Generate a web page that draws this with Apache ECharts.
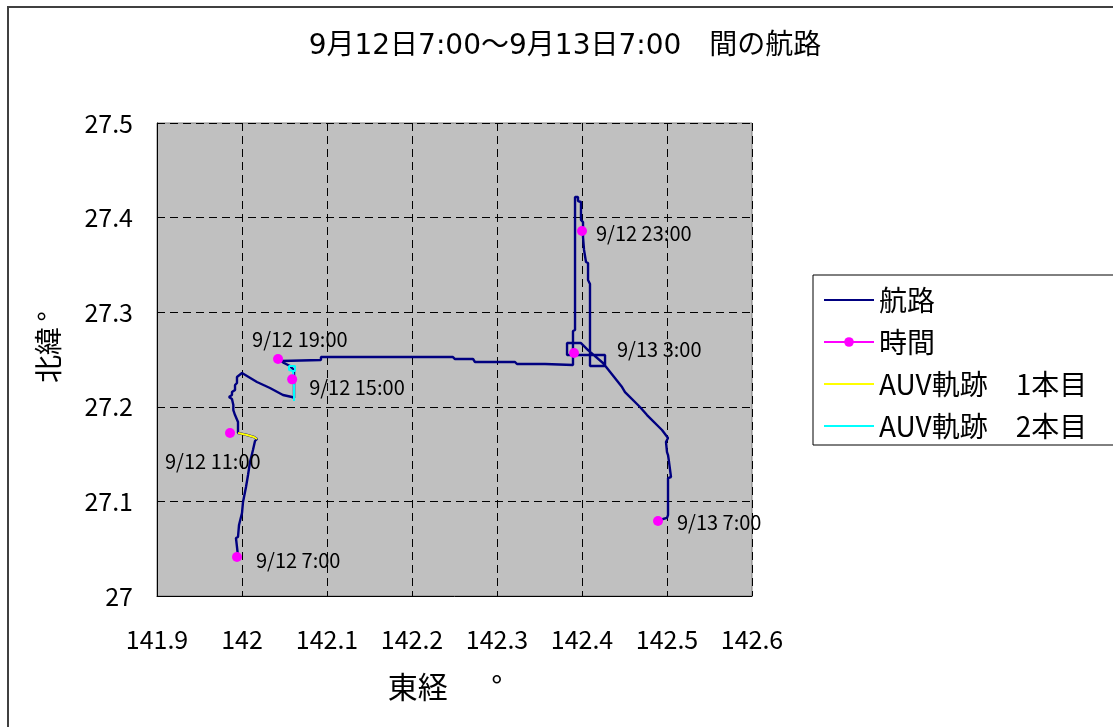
<!DOCTYPE html>
<html>
<head>
<meta charset="utf-8">
<script src="https://cdn.jsdelivr.net/npm/echarts@6/dist/echarts.min.js"></script>
<style>
  html, body { margin: 0; padding: 0; background: #fff; }
  #chart { width: 1113px; height: 727px; }
</style>
</head>
<body>
<div id="chart"></div>
<script>
// Ship track (longitude / latitude, degrees)
const routeLon = [
  141.9953, 141.9929, 141.9953, 141.9965, 141.9988, 142.0000, 142.0012, 142.0012, 142.0035, 142.0047,
  142.0059, 142.0071, 142.0082, 142.0094, 142.0106, 142.0129, 142.0141, 142.0153, 142.0176, 142.0141,
  142.0129, 142.0059, 142.0047, 141.9953, 141.9953, 141.9918, 141.9898, 141.9898, 141.9882, 141.9847,
  141.9882, 141.9882, 141.9918, 141.9918, 141.9941, 141.9941, 142.0000, 142.0012, 142.0176, 142.0329,
  142.0482, 142.0588, 142.0612, 142.0612, 142.0565, 142.0494, 142.0459, 142.0482, 142.0929, 142.0929,
  142.2482, 142.2506, 142.2718, 142.2741, 142.3212, 142.3235, 142.3565, 142.3588, 142.3894, 142.3894,
  142.3918, 142.3918, 142.3953, 142.3953, 142.3988, 142.3988, 142.4012, 142.4012, 142.4024, 142.4024,
  142.4047, 142.4047, 142.4071, 142.4071, 142.4094, 142.4094, 142.4271, 142.4271, 142.4094, 142.4094,
  142.3824, 142.3824, 142.3988, 142.4071, 142.4247, 142.4471, 142.4506, 142.4682, 142.4765, 142.4941,
  142.5012, 142.4988, 142.5000, 142.4988, 142.5012, 142.5024, 142.5047, 142.5047, 142.5012, 142.5012,
  142.5000, 142.4953, 142.4894
];
const routeLat = [
  27.0423, 27.0613, 27.0624, 27.0751, 27.0761, 27.0877, 27.0888, 27.0994, 27.1015, 27.1152,
  27.1163, 27.1279, 27.1290, 27.1416, 27.1459, 27.1543, 27.1554, 27.1638, 27.1660, 27.1681,
  27.1691, 27.1702, 27.1723, 27.1723, 27.1839, 27.1913, 27.1966, 27.2019, 27.2082, 27.2104,
  27.2125, 27.2156, 27.2178, 27.2230, 27.2252, 27.2315, 27.2357, 27.2336, 27.2262, 27.2199,
  27.2125, 27.2104, 27.2093, 27.2389, 27.2431, 27.2463, 27.2484, 27.2495, 27.2495, 27.2526,
  27.2526, 27.2505, 27.2505, 27.2474, 27.2474, 27.2452, 27.2452, 27.2442, 27.2442, 27.2801,
  27.2812, 27.4218, 27.4218, 27.4175, 27.4165, 27.3975, 27.3953, 27.3795, 27.3784, 27.3658,
  27.3647, 27.3531, 27.3520, 27.3340, 27.3298, 27.2548, 27.2548, 27.2431, 27.2431, 27.2548,
  27.2548, 27.2674, 27.2674, 27.2600, 27.2463, 27.2209, 27.2156, 27.1998, 27.1913, 27.1755,
  27.1670, 27.1628, 27.1522, 27.1512, 27.1490, 27.1416, 27.1406, 27.1258, 27.1247, 27.0856,
  27.0825, 27.0814, 27.0793
];

// AUV track, first dive
const auv1Lon = [142.0176, 142.0141, 142.0129, 142.0059, 142.0047, 141.9953];
const auv1Lat = [27.1660, 27.1681, 27.1691, 27.1702, 27.1723, 27.1723];

// AUV track, second dive
const auv2Lon = [142.0612, 142.0612, 142.0600, 142.0600, 142.0553, 142.0553, 142.0624, 142.0624, 142.0600];
const auv2Lat = [27.2061, 27.2220, 27.2241, 27.2378, 27.2389, 27.2431, 27.2431, 27.2378, 27.2378];

// Position fixes every four hours
const timeLabels = ['9/12 7:00', '9/12 11:00', '9/12 15:00', '9/12 19:00', '9/12 23:00', '9/13 3:00', '9/13 7:00'];
const timeLon = [141.9941, 141.9859, 142.0590, 142.0424, 142.4000, 142.3906, 142.4894];
const timeLat = [27.0412, 27.1723, 27.2290, 27.2505, 27.3858, 27.2569, 27.0793];

// Axis ranges
const lonMin = 141.9, lonMax = 142.6, lonStep = 0.1;
const latMin = 27.0, latMax = 27.5, latStep = 0.1;

// Label placement for the time fixes (pixel offsets from the marker)
const timeLabelOffsets = [[14, 3], [-70, 28], [12, 8], [-31, -20], [9, 2], [38, -4], [14, 1]];

const FONT = '"Noto Sans CJK JP", "Noto Sans", sans-serif';
const TITLE_FONT = '"DejaVu Sans", "Noto Sans CJK JP", sans-serif';
const pairs = (xs, ys) => xs.map((x, i) => [x, ys[i]]);

const chart = echarts.init(document.getElementById('chart'), null, { renderer: 'canvas' });

// legend entries for plain lines: hide the marker, keep the stroke
const plainLineLegend = name => ({ name, itemStyle: { opacity: 0 } });

const option = {
  animation: false,
  backgroundColor: '#ffffff',
  title: {
    text: '9月12日7:00～9月13日7:00　間の航路',
    left: 560,
    top: 28,
    textAlign: 'center',
    textStyle: { fontFamily: TITLE_FONT, fontSize: 28, fontWeight: 'normal', color: '#000' }
  },
  grid: {
    left: 157, top: 123, width: 595, height: 473,
    show: true, backgroundColor: '#C0C0C0', borderColor: '#808080', borderWidth: 1,
    containLabel: false
  },
  xAxis: {
    type: 'value', min: lonMin, max: lonMax, interval: lonStep,
    axisLine: { show: true, onZero: false, lineStyle: { color: '#000', width: 1 } },
    axisTick: { show: false },
    axisLabel: { fontFamily: FONT, fontSize: 25, color: '#000', margin: 31,
      formatter: v => String(Math.round(v * 10) / 10) },
    splitLine: { show: true, lineStyle: { color: '#000', type: [8, 5], width: 1 } }
  },
  yAxis: {
    type: 'value', min: latMin, max: latMax, interval: latStep,
    axisLine: { show: true, onZero: false, lineStyle: { color: '#000', width: 1 } },
    axisTick: { show: false },
    axisLabel: { fontFamily: FONT, fontSize: 25, color: '#000', margin: 24,
      formatter: v => String(Math.round(v * 10) / 10) },
    splitLine: { show: true, lineStyle: { color: '#000', type: [8, 5], width: 1 } }
  },
  legend: {
    orient: 'vertical',
    left: 823, top: 285, padding: 0,
    itemWidth: 50, itemHeight: 12, itemGap: 12,
    textStyle: { fontFamily: FONT, fontSize: 28, color: '#000', lineHeight: 30 },
    data: [
      plainLineLegend('航路'),
      { name: '時間', lineStyle: { color: '#FF00FF', width: 2, opacity: 1 }, itemStyle: { color: '#FF00FF' } },
      plainLineLegend('AUV軌跡　1本目'),
      plainLineLegend('AUV軌跡　2本目')
    ]
  },
  graphic: [
    { type: 'rect', shape: { x: 8, y: 7, width: 1120, height: 730 },
      style: { fill: 'none', stroke: '#404040', lineWidth: 2 }, silent: true },
    { type: 'rect', shape: { x: 813, y: 275, width: 320, height: 170 },
      style: { fill: '#fff', stroke: '#000', lineWidth: 1 }, silent: true, z: -1 },
    { type: 'text', x: 445, y: 687,
      style: { text: '東経　  °', fontFamily: FONT, fontSize: 30, fill: '#000', align: 'center', verticalAlign: 'middle' } },
    { type: 'text', x: 48, y: 347, rotation: Math.PI / 2,
      style: { text: '北緯\u2009°', fontFamily: FONT, fontSize: 28, fill: '#000', align: 'center', verticalAlign: 'middle' } }
  ],
  series: [
    {
      name: '航路', type: 'line', data: pairs(routeLon, routeLat),
      symbol: 'none', showSymbol: false,
      lineStyle: { color: '#000080', width: 2.4 }, itemStyle: { color: '#000080' }, z: 2
    },
    {
      name: 'AUV軌跡　1本目', type: 'line', data: pairs(auv1Lon, auv1Lat),
      symbol: 'none', showSymbol: false,
      lineStyle: { color: '#FFFF00', width: 2 }, itemStyle: { color: '#FFFF00' }, z: 3
    },
    {
      name: 'AUV軌跡　2本目', type: 'line', data: pairs(auv2Lon, auv2Lat),
      symbol: 'none', showSymbol: false,
      lineStyle: { color: '#00FFFF', width: 2 }, itemStyle: { color: '#00FFFF' }, z: 3
    },
    {
      name: '時間', type: 'line',
      data: timeLon.map((x, i) => ({
        value: [x, timeLat[i]],
        name: timeLabels[i],
        label: { offset: timeLabelOffsets[i] }
      })),
      symbol: 'circle', symbolSize: 10, showSymbol: true,
      lineStyle: { width: 0, opacity: 0 },
      itemStyle: { color: '#FF00FF' },
      label: {
        show: true, position: 'right', distance: 0, align: 'left', verticalAlign: 'middle',
        fontFamily: FONT, fontSize: 20, color: '#000',
        formatter: p => p.name
      },
      z: 4
    }
  ]
};

chart.setOption(option);
</script>
</body>
</html>
